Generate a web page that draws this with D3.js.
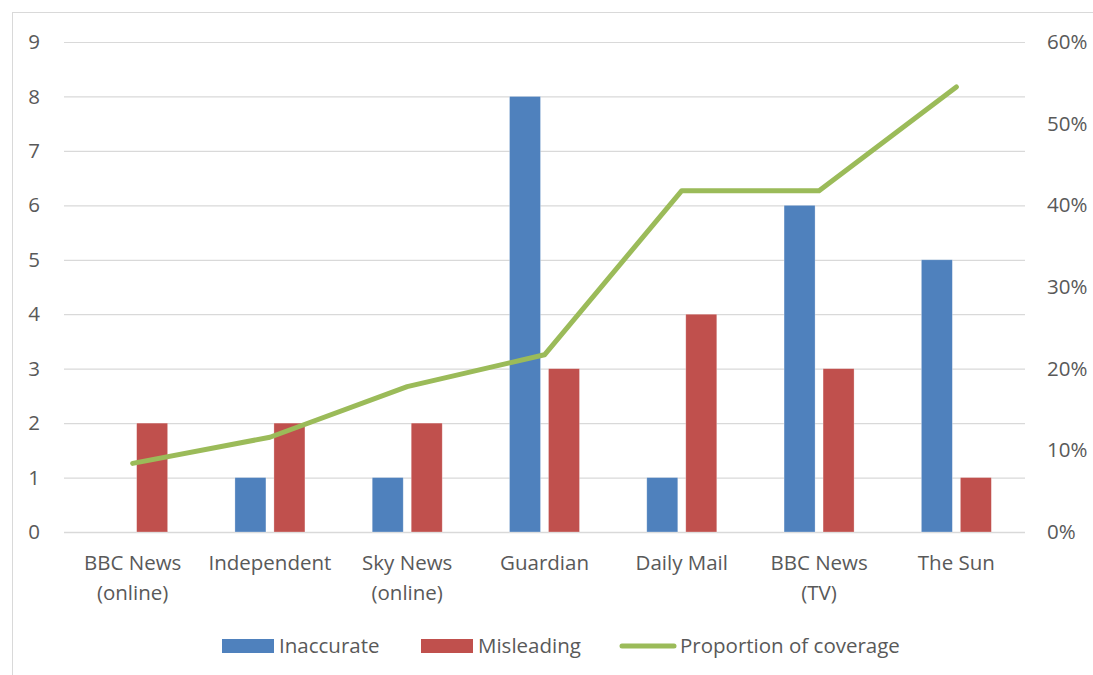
<!DOCTYPE html>
<html><head><meta charset="utf-8">
<script src="https://cdn.jsdelivr.net/npm/d3@7"></script>
<style>body{margin:0;background:#fff;} text{font-family:"Open Sans",sans-serif;fill:#595959;}</style>
</head><body><svg id="c" width="1093" height="675"></svg>
<script>
const categories = [["BBC News","(online)"],["Independent"],["Sky News","(online)"],["Guardian"],["Daily Mail"],["BBC News","(TV)"],["The Sun"]];
const inaccurate = [0,1,1,8,1,6,5];
const misleading = [2,2,2,3,4,3,1];
const proportion = [0.084,0.116,0.178,0.217,0.418,0.418,0.545];
const leftTicks = [0,1,2,3,4,5,6,7,8,9];
const rightTicks = [0,0.1,0.2,0.3,0.4,0.5,0.6];
const seriesNames = ["Inaccurate","Misleading","Proportion of coverage"];
const colors = ["#4F81BD","#C0504D","#9BBB59"];

const svg = d3.select("#c");
svg.append("rect").attr("x",12.5).attr("y",12.5).attr("width",1100).attr("height",700).attr("fill","none").attr("stroke","#d9d9d9");
const L=64,R=1025,T=42,B=532;
const x = d3.scaleBand().domain(d3.range(categories.length)).range([L,R]);
const y = d3.scaleLinear().domain([0,9]).range([B,T]);
const y2 = d3.scaleLinear().domain([0,0.6]).range([B,T]);
const fs = 20.5;

svg.append("g").selectAll("line").data(leftTicks).join("line")
  .attr("x1",L).attr("x2",R).attr("y1",d=>y(d)+0.5).attr("y2",d=>y(d)+0.5)
  .attr("stroke","#d9d9d9").attr("stroke-width",d=>d===0?1.5:1.2);

const ay = svg.append("g").attr("transform",`translate(${L},0)`).call(d3.axisLeft(y).tickValues(leftTicks).tickSize(0).tickPadding(24));
ay.select(".domain").remove();
ay.selectAll("text").style("font-size",fs+"px").attr("fill","#595959").style("font-family","Open Sans");
const ay2 = svg.append("g").attr("transform",`translate(${R},0)`).call(d3.axisRight(y2).tickValues(rightTicks).tickFormat(d3.format(".0%")).tickSize(0).tickPadding(22));
ay2.select(".domain").remove();
ay2.selectAll("text").style("font-size",fs+"px").attr("fill","#595959").style("font-family","Open Sans");

const bw=31, gap=8;
const gx = svg.append("g");
categories.forEach((c,i)=>{
  const cx = x(i)+x.bandwidth()/2;
  [inaccurate[i],misleading[i]].forEach((v,j)=>{
    if(v<=0) return;
    const bx = j===0 ? cx-gap/2-bw : cx+gap/2;
    gx.append("rect").attr("x",bx).attr("y",y(v)).attr("width",bw).attr("height",y(0)-y(v)).attr("fill",colors[j]).attr("stroke","#fff").attr("stroke-opacity",0.4).attr("stroke-width",0.7);
  });
  const t = svg.append("text").attr("text-anchor","middle").style("font-size",fs+"px");
  c.forEach((line,k)=>t.append("tspan").attr("x",cx).attr("y",570+k*30).text(line));
});

const line = d3.line().x((d,i)=>x(i)+x.bandwidth()/2).y(d=>y2(d));
svg.append("path").datum(proportion).attr("d",line).attr("fill","none").attr("stroke",colors[2]).attr("stroke-width",5).attr("stroke-linecap","round").attr("stroke-linejoin","round");

// legend
const lg = svg.append("g");
const lx = [222,421,620];
seriesNames.forEach((n,i)=>{
  if(i<2) lg.append("rect").attr("x",lx[i]).attr("y",639).attr("width",52).attr("height",14).attr("fill",colors[i]);
  else lg.append("line").attr("x1",lx[i]+2).attr("x2",lx[i]+54).attr("y1",646).attr("y2",646).attr("stroke",colors[i]).attr("stroke-width",5).attr("stroke-linecap","round");
  lg.append("text").attr("x",lx[i]+(i<2?57:60)).attr("y",653).style("font-size",fs+"px").text(n);
});
</script></body></html>
